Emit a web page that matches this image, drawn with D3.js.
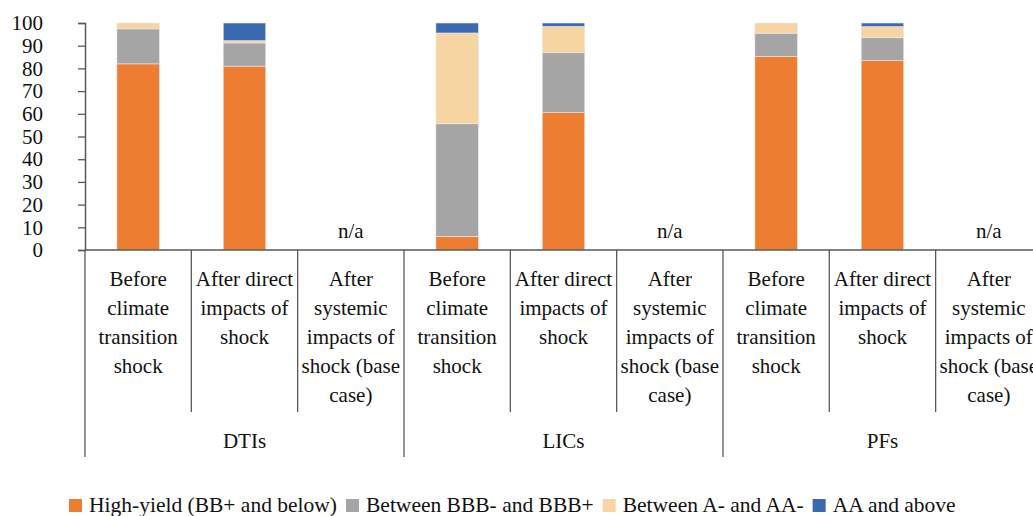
<!DOCTYPE html>
<html>
<head>
<meta charset="utf-8">
<script src="https://cdn.jsdelivr.net/npm/d3@7"></script>
<style>
  html, body { margin: 0; padding: 0; background: #fff; }
  svg { display: block; }
  text { font-family: "Liberation Serif", "DejaVu Serif", serif; fill: #111; }
</style>
</head>
<body>
<svg id="chart" width="1033" height="516"></svg>
<script>
// Rating distribution (% of holdings) by sector and stage of the climate transition shock
const groups = ["DTIs", "LICs", "PFs"];
const stages = [
  "Before\nclimate\ntransition\nshock",
  "After direct\nimpacts of\nshock",
  "After\nsystemic\nimpacts of\nshock (base\ncase)"
];
const seriesNames = ["High-yield (BB+ and below)", "Between BBB- and BBB+", "Between A- and AA-", "AA and above"];
const seriesColors = ["#ED7D31", "#A5A5A5", "#F6D5A2", "#3A69B1"];

// One value per category (DTIs x3, LICs x3, PFs x3); null = n/a
const highYield = [82.0, 81.0, null, 6.0, 60.5, null, 85.2, 83.4, null];
const bbb      = [15.4, 10.2, null, 49.6, 26.4, null, 10.3, 10.1, null];
const singleA  = [2.6, 1.0, null, 40.0, 11.6, null, 4.5, 4.9, null];
const aaAbove  = [0.0, 7.8, null, 4.4, 1.5, null, 0.0, 1.6, null];
const yTicks = [0, 10, 20, 30, 40, 50, 60, 70, 80, 90, 100];

(function () {
  const svg = d3.select("#chart");
  const axisColor = "#595959";

  const plotLeft = 85, bandW = 106.33, plotTop = 23, plotBottom = 250;
  const categories = d3.range(groups.length * stages.length);

  const x = d3.scaleBand().domain(categories).range([plotLeft, plotLeft + bandW * categories.length]).padding(0);
  const y = d3.scaleLinear().domain([0, 100]).range([plotBottom, plotTop]);
  const barW = x.bandwidth() * 0.40;

  // Stack rows
  const rows = categories.map(i => ({
    i, na: highYield[i] === null,
    v: [highYield[i] || 0, bbb[i] || 0, singleA[i] || 0, aaAbove[i] || 0]
  }));
  const stacked = d3.stack().keys([0, 1, 2, 3]).value((d, k) => d.v[k])(rows);

  const gBars = svg.append("g");
  stacked.forEach((layer, k) => {
    gBars.selectAll(null)
      .data(layer.filter(d => !d.data.na && d[1] - d[0] > 0))
      .join("rect")
      .attr("x", d => x(d.data.i) + (x.bandwidth() - barW) / 2)
      .attr("width", barW)
      .attr("y", d => y(d[1]))
      .attr("height", d => y(d[0]) - y(d[1]))
      .attr("fill", seriesColors[k])
      .attr("stroke", "#e9e9e9")
      .attr("stroke-width", 0.6);
  });

  // n/a labels
  svg.append("g").selectAll("text")
    .data(rows.filter(d => d.na))
    .join("text")
    .attr("x", d => x(d.i) + x.bandwidth() / 2)
    .attr("y", 238)
    .attr("text-anchor", "middle")
    .style("font-size", "21px")
    .text("n/a");

  // Y axis
  const yAxis = d3.axisLeft(y).tickValues(yTicks).tickSize(7).tickPadding(35).tickFormat(d3.format("d"));
  const gy = svg.append("g").attr("transform", `translate(${plotLeft},0)`).call(yAxis);
  gy.select(".domain").attr("stroke", axisColor).attr("stroke-width", 1.5);
  gy.selectAll(".tick line").attr("stroke", axisColor).attr("stroke-width", 1.3);
  gy.selectAll(".tick text").style("font-size", "21px").style("font-family", "Liberation Serif").attr("fill", "#111");

  // X axis baseline and category separators
  const gx = svg.append("g");
  gx.append("line").attr("x1", plotLeft).attr("x2", 1033).attr("y1", plotBottom).attr("y2", plotBottom)
    .attr("stroke", axisColor).attr("stroke-width", 1.5);
  const edges = d3.range(categories.length + 1).map(i => plotLeft + i * x.bandwidth());
  gx.selectAll(".sep").data(edges).join("line")
    .attr("x1", d => d).attr("x2", d => d)
    .attr("y1", plotBottom)
    .attr("y2", (d, i) => i % stages.length === 0 ? 457 : 412)
    .attr("stroke", axisColor).attr("stroke-width", 1.3);

  // Category labels (multi-line)
  const catLabels = gx.selectAll(".cat").data(categories).join("text")
    .attr("text-anchor", "middle")
    .style("font-size", "21px")
    .attr("transform", d => `translate(${x(d) + x.bandwidth() / 2},286)`);
  catLabels.each(function (d) {
    const lines = stages[d % stages.length].split("\n");
    d3.select(this).selectAll("tspan").data(lines).join("tspan")
      .attr("x", 0).attr("y", (l, j) => j * 29).text(l => l);
  });

  // Group labels
  gx.selectAll(".grp").data(groups).join("text")
    .attr("x", (g, gi) => x(gi * stages.length) + x.bandwidth() * stages.length / 2)
    .attr("y", 448)
    .attr("text-anchor", "middle")
    .style("font-size", "21px")
    .text(g => g);

  // Legend
  const legend = svg.append("g").attr("transform", "translate(69,0)");
  let lx = 0;
  seriesNames.forEach((name, k) => {
    legend.append("rect").attr("x", lx).attr("y", 499).attr("width", 13).attr("height", 13)
      .attr("fill", seriesColors[k]);
    const t = legend.append("text").attr("x", lx + 20).attr("y", 512)
      .style("font-size", "21.5px").text(name);
    lx += 20 + t.node().getComputedTextLength() + 9;
  });
})();
</script>
</body>
</html>
